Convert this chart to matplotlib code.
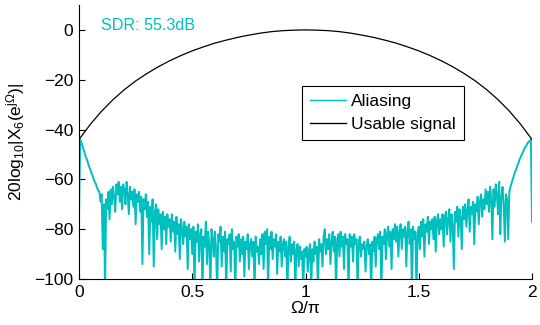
import numpy as np
import matplotlib
matplotlib.use('Agg')
import matplotlib.pyplot as plt

plt.rcParams['font.family'] = ['Liberation Sans', 'DejaVu Sans']
plt.rcParams['mathtext.fontset'] = 'custom'
plt.rcParams['mathtext.rm'] = 'Liberation Sans'
plt.rcParams['mathtext.it'] = 'Liberation Sans:italic'

# usable signal, sampled every 0.05 in Omega/pi
omega_sig = np.linspace(0, 2, 41)
usable = [-44.0, -37.9, -32.6, -28.0, -24.0, -20.5, -17.5, -14.8, -12.4, -10.3,
          -8.4, -6.8, -5.3, -4.1, -3.0, -2.1, -1.3, -0.7, -0.3, -0.1,
          0.0,
          -0.1, -0.3, -0.7, -1.3, -2.1, -3.0, -4.1, -5.3, -6.8, -8.4,
          -10.3, -12.4, -14.8, -17.5, -20.5, -24.0, -28.0, -32.6, -37.9, -44.0]

omega_alias = np.linspace(0, 2, 401)
aliasing = [
    -76, -44, -45, -46.5, -48, -49.5, -51, -52, -53.5, -55, -56, -57.5, -58.5, -60, -61, -62, -63.5, -64.5, -65, -69,
    -66, -88, -70, -105, -68, -72, -65, -76, -64, -70, -63, -67, -73, -62, -66, -61, -69, -63, -72, -62,
    -64, -70, -61, -66, -74, -63, -68, -65, -71, -64, -78, -66, -69, -65, -73, -67, -94, -68, -72, -66,
    -75, -69, -90, -71, -77, -68, -95, -73, -70, -84, -72, -78, -74, -88, -73, -80, -75, -86, -74, -79,
    -76, -85, -74, -81, -77, -89, -75, -82, -78, -92, -76, -80, -86, -77, -83, -79, -96, -78, -84, -80,
    -90, -79, -105, -81, -85, -78, -93, -82, -80, -105, -83, -87, -77, -94, -81, -86, -105, -80, -84, -91,
    -81, -88, -105, -82, -85, -79, -95, -83, -89, -81, -105, -84, -86, -82, -97, -80, -88, -85, -105, -83,
    -87, -82, -93, -84, -90, -83, -99, -85, -88, -82, -96, -86, -84, -91, -85, -105, -83, -89, -87, -94,
    -84, -90, -82, -96, -81, -86, -80, -105, -83, -88, -81, -92, -84, -87, -82, -98, -85, -89, -83, -95,
    -86, -84, -91, -85, -105, -87, -83, -93, -86, -90, -85, -105, -88, -86, -95, -87, -92, -89, -105, -88,
    -91, -87, -97, -89, -86, -105, -88, -93, -85, -90, -87, -105, -84, -89, -86, -95, -83, -80, -90, -84,
    -88, -82, -94, -85, -81, -89, -83, -105, -84, -82, -91, -81, -87, -83, -96, -82, -86, -84, -105, -82,
    -87, -83, -93, -82, -86, -84, -105, -85, -83, -91, -86, -88, -85, -97, -87, -84, -90, -86, -105, -85,
    -89, -83, -95, -84, -82, -88, -81, -105, -83, -86, -80, -92, -82, -79, -87, -81, -96, -80, -84, -78,
    -85, -79, -91, -81, -78, -88, -80, -83, -79, -95, -81, -77, -86, -80, -105, -79, -84, -81, -105, -82,
    -79, -88, -77, -83, -76, -91, -78, -81, -75, -86, -77, -80, -76, -84, -75, -89, -77, -74, -82, -76,
    -80, -74, -87, -75, -73, -82, -76, -72, -85, -74, -78, -96, -73, -77, -71, -83, -72, -75, -88, -71,
    -76, -70, -79, -72, -68, -81, -71, -74, -69, -86, -70, -73, -67, -78, -69, -66, -75, -68, -72, -64,
    -70, -65, -73, -63, -68, -84, -64, -71, -62, -66, -74, -61, -82, -67, -63, -70, -85, -66, -68, -84,
    -65, -63, -61.5, -60, -58.5, -57, -56, -54.5, -53.5, -52, -51, -50, -49, -48, -47, -46.5, -45.5, -45, -44.5, -44,
    -77,
]

sdr_text = 'SDR: 55.3dB'
cyan = '#00BFBF'

fig = plt.figure(figsize=(5.4, 3.25), dpi=100)
ax = fig.add_axes([79 / 540, 1 - 279 / 325, 453 / 540, 274 / 325])

ax.plot(omega_alias, aliasing, color=cyan, lw=1.4, label='Aliasing')
ax.plot(omega_sig, usable, color='black', lw=0.9, label='Usable signal')

ax.set_xlim(0, 2)
ax.set_ylim(-100, 10)
ax.set_xticks([0, 0.5, 1, 1.5, 2])
ax.set_xticklabels(['0', '0.5', '1', '1.5', '2'])
ax.set_yticks([-100, -80, -60, -40, -20, 0])
ax.tick_params(direction='in', length=4, width=0.8, labelsize=12.5, pad=4)

ax.spines['top'].set_visible(False)
ax.spines['right'].set_visible(False)
for s in ['left', 'bottom']:
    ax.spines[s].set_linewidth(0.8)

ax.set_xlabel('Ω/π', fontsize=12.5, labelpad=1)
ax.set_ylabel(r'$\mathrm{20log_{10}|X_6(e^{jΩ})|}$', fontsize=12.5)
ax.yaxis.set_label_coords(-0.115, 0.5)

ax.text(0.096, 0, sdr_text, color=cyan, fontsize=11.6, va='baseline', ha='left')

leg = ax.legend(loc='upper left', bbox_to_anchor=(301.7 / 540, 1 - 85.7 / 325),
                bbox_transform=fig.transFigure, borderaxespad=0,
                fontsize=12.5, handlelength=2.1, handletextpad=0.3,
                labelspacing=0.5, borderpad=0.45, fancybox=False, framealpha=1)
leg.get_frame().set_edgecolor('black')
leg.get_frame().set_linewidth(0.8)
for line in leg.get_lines():
    line.set_linewidth(1.0)

fig.savefig('out.png', dpi=100)
